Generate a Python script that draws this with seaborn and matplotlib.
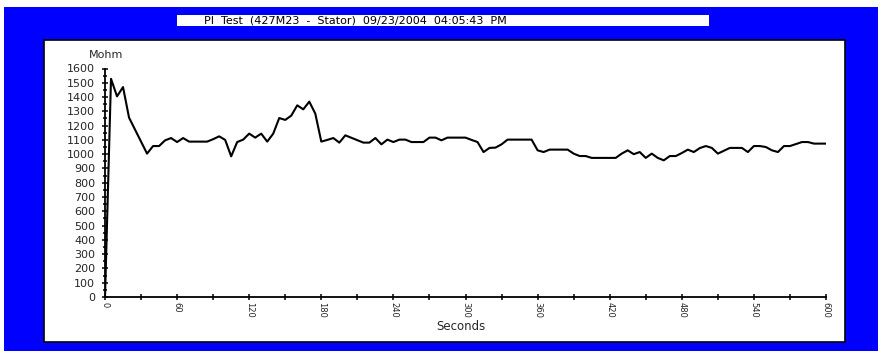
import matplotlib
matplotlib.use("Agg")
import matplotlib.pyplot as plt
from matplotlib.patches import Rectangle
from matplotlib.ticker import FixedLocator, MultipleLocator
import pandas as pd
import seaborn as sns

# Insulation resistance readings of the PI test, one sample every 5 s
seconds = [
    0, 5, 10, 15, 20, 25, 30, 35, 40, 45, 50, 55, 60, 65, 70, 75, 80, 85, 90, 95,
    100, 105, 110, 115, 120, 125, 130, 135, 140, 145, 150, 155, 160, 165, 170, 175,
    180, 185, 190, 195, 200, 205, 210, 215, 220, 225, 230, 235, 240, 245, 250, 255,
    260, 265, 270, 275, 280, 285, 290, 295, 300, 305, 310, 315, 320, 325, 330, 335,
    340, 345, 350, 355, 360, 365, 370, 375, 380, 385, 390, 395, 400, 405, 410, 415,
    420, 425, 430, 435, 440, 445, 450, 455, 460, 465, 470, 475, 480, 485, 490, 495,
    500, 505, 510, 515, 520, 525, 530, 535, 540, 545, 550, 555, 560, 565, 570, 575,
    580, 585, 590, 595, 600,
]
mohm = [
    0, 1528, 1405, 1470, 1256, 1172, 1088, 1004, 1057, 1057, 1097, 1113, 1085, 1113,
    1088, 1088, 1088, 1088, 1105, 1125, 1100, 985, 1085, 1102, 1144, 1116, 1144, 1088,
    1144, 1253, 1240, 1270, 1342, 1314, 1368, 1284, 1088, 1100, 1113, 1081, 1132, 1115,
    1098, 1081, 1081, 1113, 1069, 1102, 1085, 1102, 1102, 1085, 1085, 1085, 1116, 1116,
    1097, 1116, 1116, 1116, 1116, 1100, 1085, 1015, 1044, 1046, 1069, 1102, 1102, 1102,
    1102, 1102, 1027, 1015, 1032, 1032, 1032, 1032, 1004, 987, 987, 974, 974, 974,
    974, 974, 1004, 1027, 1000, 1015, 974, 1004, 974, 957, 987, 987, 1008, 1032,
    1015, 1043, 1057, 1044, 1004, 1024, 1044, 1044, 1044, 1015, 1057, 1057, 1050, 1027,
    1015, 1057, 1057, 1071, 1085, 1085, 1074, 1074, 1074,
]

x_ticks = [0, 60, 120, 180, 240, 300, 360, 420, 480, 540, 600]
x_tick_labels = ["0", "60", "120", "180", "240", "300", "360", "420", "480", "540", "600"]
y_ticks = [0, 100, 200, 300, 400, 500, 600, 700, 800, 900, 1000, 1100, 1200, 1300,
           1400, 1500, 1600]
y_tick_labels = [str(v) for v in y_ticks]

title = "PI  Test  (427M23  -  Stator)  09/23/2004  04:05:43  PM"

sns.set_style("white")
plt.rcParams["font.family"] = ["DejaVu Sans"]

W, H = 881, 354
fig = plt.figure(figsize=(W / 100, H / 100), dpi=100, facecolor="white")


def fx(px):
    return px / W


def fy(py):
    return 1 - py / H


# blue frame, white chart panel and title strip
fig.patches.append(Rectangle((fx(4), fy(351)), (878 - 4) / W, (351 - 7) / H,
                             transform=fig.transFigure, facecolor="#0000FF",
                             edgecolor="none", zorder=-3))
fig.patches.append(Rectangle((fx(44), fy(342)), (845 - 44) / W, (342 - 40) / H,
                             transform=fig.transFigure, facecolor="white",
                             edgecolor="black", linewidth=1.2, zorder=-2))
fig.patches.append(Rectangle((fx(177), fy(26)), (709 - 177) / W, 11 / H,
                             transform=fig.transFigure, facecolor="white",
                             edgecolor="none", zorder=-2))
fig.text(fx(204), fy(20.5), title, ha="left", va="center", fontsize=8, color="black")

ax = fig.add_axes([fx(105), fy(297), (826 - 105) / W, (297 - 68.5) / H])
ax.patch.set_alpha(0)

df = pd.DataFrame({"Seconds": seconds, "Mohm": mohm})
sns.lineplot(data=df, x="Seconds", y="Mohm", ax=ax, color="black", linewidth=1.5)

ax.set_xlim(0, 600)
ax.set_ylim(0, 1600)
ax.set_xlabel("")
ax.set_ylabel("")
for side in ("top", "right"):
    ax.spines[side].set_visible(False)
for side in ("left", "bottom"):
    ax.spines[side].set_color("black")
    ax.spines[side].set_linewidth(1.3)

ax.xaxis.set_major_locator(FixedLocator(x_ticks))
ax.set_xticklabels(x_tick_labels, rotation=270, ha="center", va="top")
ax.xaxis.set_minor_locator(MultipleLocator(30))
ax.yaxis.set_major_locator(FixedLocator(y_ticks))
ax.set_yticklabels(y_tick_labels)
ax.yaxis.set_minor_locator(MultipleLocator(50))

ax.tick_params(axis="x", which="both", bottom=True, direction="inout", length=4,
               width=1.1, pad=1.5, labelsize=6, color="black")
ax.tick_params(axis="y", which="major", left=True, direction="inout", length=5,
               width=1.1, pad=4.5, labelsize=8, color="black")
ax.tick_params(axis="y", which="minor", left=True, direction="inout", length=3.5,
               width=1.1, color="black")

fig.text(fx(106), fy(55), "Mohm", ha="center", va="center", fontsize=8)
fig.text(fx(461), fy(327), "Seconds", ha="center", va="center", fontsize=8.5)

fig.savefig("out.png", dpi=100, facecolor="white")
